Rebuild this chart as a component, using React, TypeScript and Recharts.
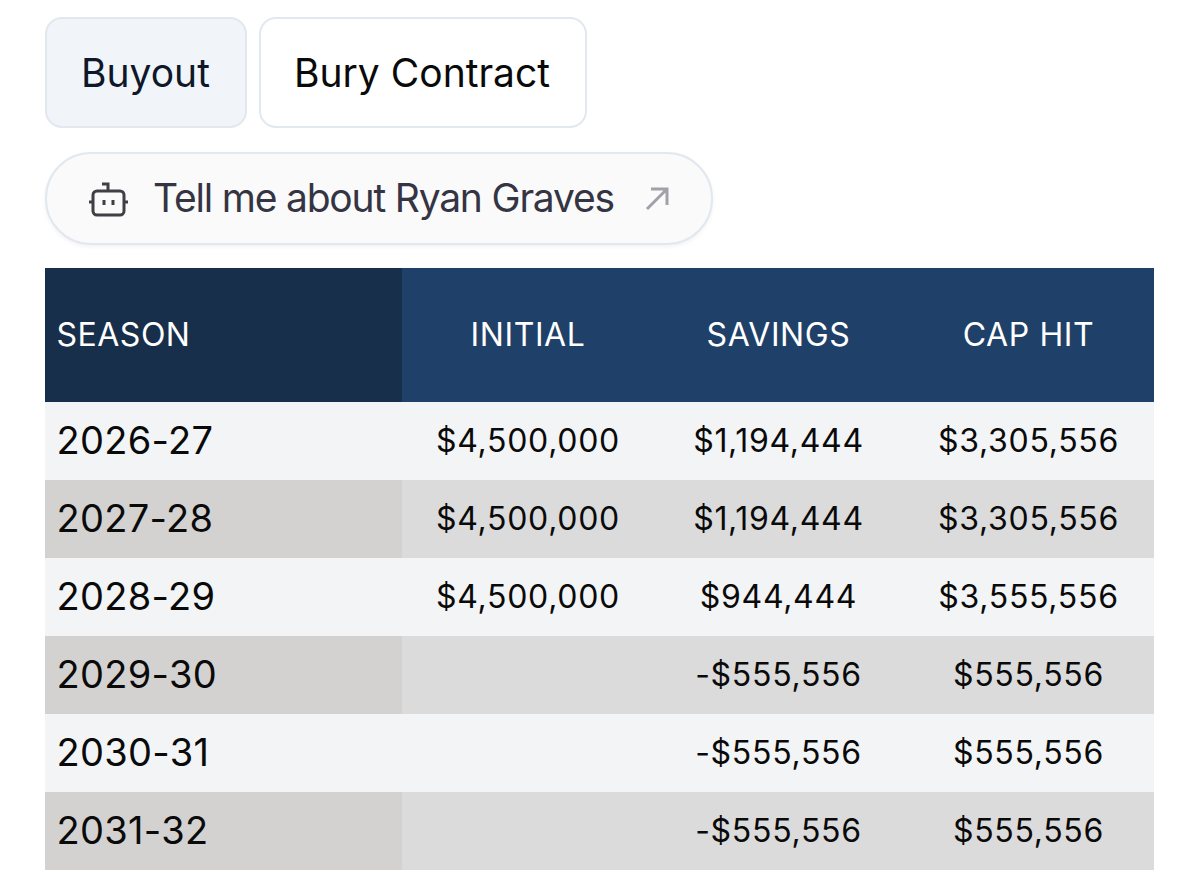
import { BarChart, Bar, XAxis, YAxis, Cell, LabelList } from 'recharts'

const headers = ['SEASON', 'INITIAL', 'SAVINGS', 'CAP HIT']
const seasons = ['2026-27', '2027-28', '2028-29', '2029-30', '2030-31', '2031-32']
const initial = [4500000, 4500000, 4500000, null, null, null]
const savings = [1194444, 1194444, 944444, -555556, -555556, -555556]
const capHit = [3305556, 3305556, 3555556, 555556, 555556, 555556]

const columnWidths = [357, 252, 249, 251]
const tableWidth = 1109
const inter = 'Inter, sans-serif'

function money(v: number | null): string {
  if (v === null) return ''
  const s = '$' + Math.abs(v).toLocaleString('en-US')
  return v < 0 ? '-' + s : s
}

const widths = { w0: columnWidths[0], w1: columnWidths[1], w2: columnWidths[2], w3: columnWidths[3] }

const headerData = [{ key: 'header', t0: headers[0], t1: headers[1], t2: headers[2], t3: headers[3], ...widths }]

const rowData = seasons.map((s, i) => ({
  key: s,
  t0: s,
  t1: money(initial[i]),
  t2: money(savings[i]),
  t3: money(capHit[i]),
  ...widths,
}))

function cellLabel(col: number, fontSize: number, spacing: number, fill: string, firstOffset: number) {
  return (props: any) => {
    const { x, y, width, height, value } = props
    const left = col === 0
    return (
      <text
        x={left ? x + firstOffset : x + width / 2}
        y={y + height / 2}
        dy="0.33em"
        textAnchor={left ? 'start' : 'middle'}
        fontFamily={inter}
        fontSize={fontSize}
        letterSpacing={spacing}
        fill={fill}
      >
        {value}
      </text>
    )
  }
}

function Band({ data, height, fills, text }: any) {
  return (
    <BarChart
      width={tableWidth}
      height={height}
      data={data}
      layout="vertical"
      barCategoryGap={0}
      margin={{ top: 0, right: 0, bottom: 0, left: 0 }}
    >
      <XAxis type="number" domain={[0, tableWidth]} hide />
      <YAxis type="category" dataKey="key" hide />
      {[0, 1, 2, 3].map(col => (
        <Bar key={col} dataKey={'w' + col} stackId="row" isAnimationActive={false}>
          {data.map((_: unknown, i: number) => (
            <Cell key={i} fill={fills(col, i)} />
          ))}
          <LabelList
            dataKey={'t' + col}
            content={cellLabel(col, col === 0 ? text.first : text.size, col === 0 ? text.firstSpacing : text.spacing, text.fill, 11.5)}
          />
        </Bar>
      ))}
    </BarChart>
  )
}

const box = { position: 'absolute', boxSizing: 'border-box' } as const
const label = { position: 'absolute', fontFamily: inter, fontSize: 39, lineHeight: '46px', whiteSpace: 'nowrap' } as const

export default function App() {
  return (
    <div style={{ position: 'absolute', left: 0, top: 0, width: 1199, height: 874, background: '#fff', overflow: 'hidden' }}>
      <div style={{ ...box, left: 45, top: 17, width: 202, height: 111, borderRadius: 17, border: '2px solid #e2e8f0', background: '#f1f5f9' }} />
      <span style={{ ...label, left: 81, top: 50, color: '#0f172a' }}>Buyout</span>
      <div style={{ ...box, left: 259, top: 17, width: 328, height: 111, borderRadius: 17, border: '2px solid #e2e8f0', background: '#fff' }} />
      <span style={{ ...label, left: 294, top: 50, color: '#0a0a0a' }}>Bury Contract</span>
      <div style={{ ...box, left: 45, top: 152, width: 668, height: 93, borderRadius: 46, border: '2px solid #e2e8f0', background: '#fafafa', boxShadow: '0 2px 4px rgba(0,0,0,0.05)' }} />
      <svg style={{ position: 'absolute', left: 88, top: 180 }} width={40} height={40} viewBox="0 0 40 40" fill="none" stroke="#3f3f46" strokeWidth={3}>
        <rect x={5} y={11} width={31} height={24} rx={4} />
        <path d="M20 11 V4 H14 M1 22 H5 M36 22 H40 M16 20 V25 M25 20 V25" />
      </svg>
      <span style={{ ...label, left: 153, top: 175, color: '#343442', letterSpacing: -1.2 }}>Tell me about Ryan Graves</span>
      <svg style={{ position: 'absolute', left: 642, top: 184 }} width={30} height={30} viewBox="0 0 30 30" fill="none" stroke="#a1a1aa" strokeWidth={3}>
        <path d="M5 25 L25 5 M9 5 H25 V21" />
      </svg>
      <div style={{ position: 'absolute', left: 45, top: 268 }}>
        <Band
          data={headerData}
          height={134}
          fills={(col: number) => (col === 0 ? '#172f4a' : '#1f4068')}
          text={{ first: 32, firstSpacing: 0.5, size: 32, spacing: 0.6, fill: '#ffffff' }}
        />
        <Band
          data={rowData}
          height={468}
          fills={(col: number, i: number) =>
            i % 2 === 0 ? '#f3f4f6' : col === 0 ? '#d3d2d1' : '#dbdbdc'
          }
          text={{ first: 38, firstSpacing: 0.3, size: 32, spacing: 0.7, fill: '#0a0a0a' }}
        />
      </div>
    </div>
  )
}
